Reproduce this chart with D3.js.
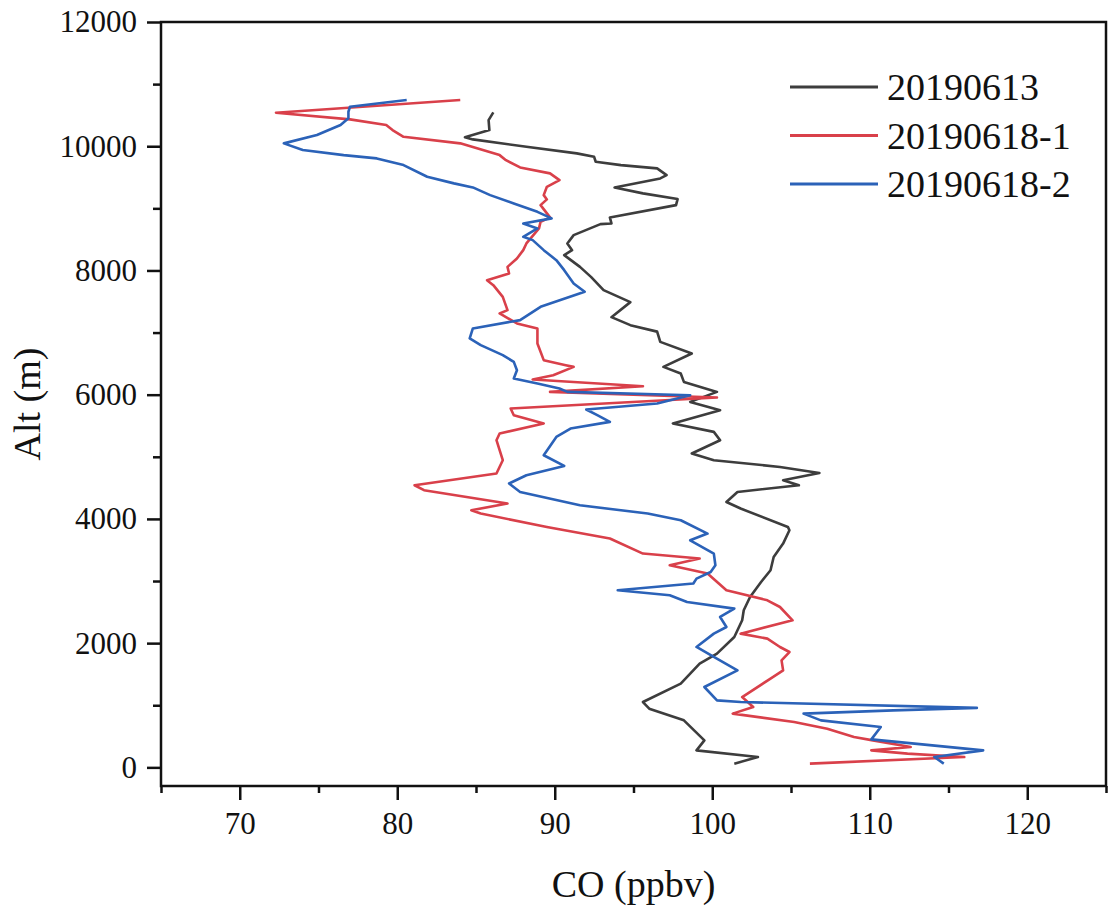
<!DOCTYPE html>
<html>
<head>
<meta charset="utf-8">
<script src="https://cdn.jsdelivr.net/npm/d3@7"></script>
<style>
  body { margin: 0; background: #fff; }
  svg text { font-family: "Liberation Serif", "Times New Roman", serif; fill: #111; }
</style>
</head>
<body>
<script>
// CO profiles, values (CO in ppbv, altitude in m)
var blackCO  = [86.1, 85.8, 85.85, 84.3, 84.8, 88.2, 91.4, 92.5, 92.6, 94.2, 96.5, 97.1, 96.7, 93.8, 95.6, 97.8, 97.7, 93.5, 93.6, 92.9, 91.2, 90.8, 91.1, 90.6, 91.6, 92.3, 93.1, 94.8, 93.6, 94.8, 96.5, 96.7, 98.7, 96.9, 98.0, 98.2, 100.3, 98.6, 100.5, 97.5, 100.1, 100.5, 98.7, 100.1, 104.3, 106.8, 104.5, 105.5, 101.6, 100.9, 101.8, 104.8, 104.9, 104.5, 103.9, 103.7, 103.1, 102.4, 102.0, 101.9, 101.4, 100.3, 99.2, 98.0, 95.6, 96.0, 98.2, 99.5, 99.0, 102.9, 101.4];
var blackAlt = [10545, 10421, 10260, 10143, 10110, 9991, 9885, 9830, 9750, 9696, 9643, 9535, 9482, 9337, 9241, 9149, 9052, 8854, 8757, 8746, 8569, 8435, 8327, 8247, 8058, 7897, 7683, 7490, 7248, 7119, 7015, 6850, 6663, 6448, 6341, 6206, 6045, 5884, 5750, 5536, 5401, 5267, 5053, 4945, 4837, 4740, 4623, 4542, 4434, 4273, 4167, 3871, 3817, 3603, 3387, 3173, 2985, 2743, 2529, 2368, 2099, 1831, 1670, 1348, 1052, 945, 757, 435, 274, 166, 60];

var redCO  = [84.0, 72.3, 77.0, 79.3, 79.7, 80.4, 84.0, 86.5, 86.9, 87.8, 89.7, 90.3, 89.5, 89.3, 89.5, 89.1, 89.7, 89.1, 89.0, 88.2, 88.0, 87.6, 87.0, 87.1, 85.7, 86.1, 86.7, 87.0, 86.5, 87.6, 88.9, 88.9, 89.3, 90.7, 91.2, 89.9, 88.6, 95.6, 89.7, 100.3, 87.2, 87.4, 89.3, 86.5, 86.3, 86.7, 86.3, 81.1, 81.7, 87.0, 84.7, 85.3, 89.5, 93.5, 95.6, 99.2, 97.3, 99.7, 100.9, 103.5, 104.3, 105.1, 101.8, 103.5, 104.3, 104.9, 104.4, 104.5, 103.7, 101.9, 102.6, 101.3, 105.2, 107.3, 109.0, 110.2, 112.6, 110.1, 112.4, 116.0, 106.2];
var redAlt = [10743, 10539, 10432, 10341, 10260, 10152, 10046, 9857, 9776, 9659, 9563, 9455, 9347, 9213, 9144, 9052, 8854, 8783, 8677, 8435, 8327, 8193, 8058, 7952, 7844, 7763, 7575, 7361, 7308, 7147, 7066, 6824, 6556, 6475, 6448, 6314, 6245, 6137, 6045, 5955, 5778, 5670, 5536, 5375, 5267, 4945, 4731, 4542, 4462, 4247, 4139, 4086, 3871, 3684, 3442, 3362, 3254, 3120, 2851, 2690, 2582, 2368, 2153, 2073, 1938, 1857, 1723, 1562, 1429, 1132, 971, 865, 730, 623, 488, 435, 327, 274, 221, 166, 60];

var blueCO  = [80.6, 77.0, 76.9, 76.9, 76.4, 74.9, 72.8, 74.0, 76.6, 78.7, 80.4, 81.9, 83.6, 84.8, 85.9, 87.4, 88.9, 89.8, 88.0, 88.9, 88.0, 88.6, 89.3, 90.1, 90.6, 91.2, 91.9, 89.1, 87.8, 84.8, 84.6, 85.3, 86.7, 87.4, 87.6, 87.4, 88.9, 90.3, 90.8, 98.6, 96.5, 92.0, 92.7, 93.5, 91.0, 90.1, 89.3, 90.6, 88.2, 87.1, 87.8, 91.6, 95.9, 98.0, 99.7, 98.6, 100.1, 100.2, 99.9, 99.0, 98.8, 94.0, 97.3, 98.4, 101.4, 100.5, 100.9, 100.1, 99.0, 100.1, 101.6, 99.5, 100.3, 101.8, 116.8, 111.5, 105.8, 106.9, 110.7, 110.1, 117.2, 114.1, 114.7];
var blueAlt = [10743, 10636, 10555, 10449, 10341, 10180, 10046, 9938, 9857, 9804, 9696, 9508, 9402, 9337, 9213, 9079, 8944, 8838, 8757, 8677, 8542, 8488, 8327, 8166, 8005, 7791, 7656, 7414, 7200, 7066, 6905, 6797, 6636, 6528, 6394, 6261, 6180, 6100, 6045, 5992, 5858, 5761, 5670, 5562, 5455, 5320, 5025, 4853, 4703, 4570, 4434, 4220, 4086, 3978, 3764, 3656, 3442, 3254, 3146, 3039, 2959, 2851, 2770, 2662, 2556, 2421, 2260, 2153, 1938, 1777, 1562, 1294, 1079, 1052, 958, 918, 865, 757, 649, 451, 274, 166, 60];

var seriesNames = ["20190613", "20190618-1", "20190618-2"];
var seriesColors = ["#3d3d3d", "#d9404a", "#2b62b8"];

var xMajor = [70, 80, 90, 100, 110, 120];
var xMinor = [65, 75, 85, 95, 105, 115, 125];
var yMajor = [0, 2000, 4000, 6000, 8000, 10000, 12000];
var yMinor = [1000, 3000, 5000, 7000, 9000, 11000];

var margin = {top: 22, right: 12, bottom: 128, left: 161};
var width = 1118 - margin.left - margin.right,
    height = 914 - margin.top - margin.bottom;

var svg = d3.select("body").append("svg")
            .attr("width", 1118)
            .attr("height", 914);

var g = svg.append("g")
           .attr("transform", "translate(" + margin.left + "," + margin.top + ")");

var x = d3.scaleLinear().domain([65, 125]).range([0, width]);
var y = d3.scaleLinear().domain([-300, 12000]).range([height, 0]);

function styleAxis(sel, fontSize) {
    sel.select(".domain").remove();
    sel.selectAll("line").attr("stroke", "#111").attr("stroke-width", 2.5);
    sel.selectAll("text").style("font-size", fontSize + "px");
}

// minor ticks
g.append("g")
 .attr("transform", "translate(0," + height + ")")
 .call(d3.axisBottom(x).tickValues(xMinor).tickSize(7).tickFormat(""))
 .call(styleAxis, 31);
g.append("g")
 .call(d3.axisLeft(y).tickValues(yMinor).tickSize(8).tickFormat(""))
 .call(styleAxis, 31);

// major ticks
g.append("g")
 .attr("transform", "translate(0," + height + ")")
 .call(d3.axisBottom(x).tickValues(xMajor).tickSize(14).tickPadding(12).tickFormat(d3.format("d")))
 .call(styleAxis, 31);
g.append("g")
 .call(d3.axisLeft(y).tickValues(yMajor).tickSize(14).tickPadding(10).tickFormat(d3.format("d")))
 .call(styleAxis, 31);

// frame
g.append("rect")
 .attr("width", width)
 .attr("height", height)
 .attr("fill", "none")
 .attr("stroke", "#111")
 .attr("stroke-width", 2.5);

var line = d3.line()
             .x(function(d) { return x(d[0]); })
             .y(function(d) { return y(d[1]); });

var series = [
    d3.zip(blackCO, blackAlt),
    d3.zip(redCO, redAlt),
    d3.zip(blueCO, blueAlt)
];

g.selectAll("path.profile")
 .data(series)
 .enter()
 .append("path")
 .attr("class", "profile")
 .attr("d", line)
 .attr("fill", "none")
 .attr("stroke", function(d, i) { return seriesColors[i]; })
 .attr("stroke-width", 2.6)
 .attr("stroke-linejoin", "round");

// axis titles
svg.append("text")
   .attr("x", margin.left + width / 2)
   .attr("y", 897)
   .attr("text-anchor", "middle")
   .style("font-size", "38px")
   .text("CO (ppbv)");

svg.append("text")
   .attr("transform", "translate(40," + (margin.top + height / 2) + ") rotate(-90)")
   .attr("text-anchor", "middle")
   .style("font-size", "38px")
   .text("Alt (m)");

// legend
var legend = svg.selectAll("g.legend")
                .data(seriesNames)
                .enter()
                .append("g")
                .attr("class", "legend")
                .attr("transform", function(d, i) { return "translate(790," + (87 + i * 48.5) + ")"; });

legend.append("line")
      .attr("x1", 0).attr("x2", 88)
      .attr("stroke", function(d, i) { return seriesColors[i]; })
      .attr("stroke-width", 3);

legend.append("text")
      .attr("x", 97)
      .attr("y", 13)
      .style("font-size", "38px")
      .text(function(d) { return d; });
</script>
</body>
</html>
